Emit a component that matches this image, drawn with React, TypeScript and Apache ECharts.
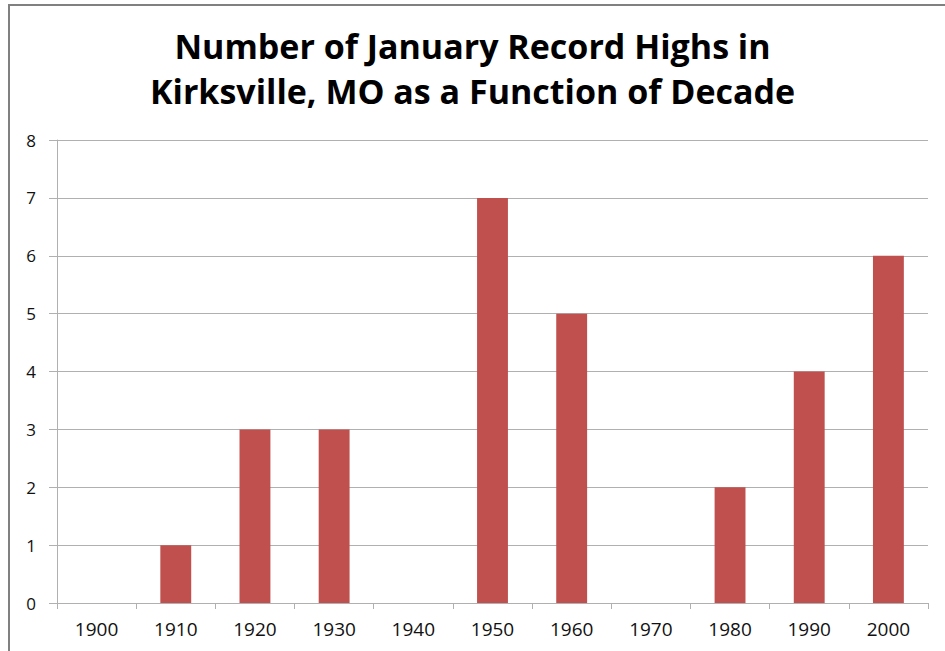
import React, { useEffect, useRef } from "react";
import * as echarts from "echarts";

const decades = ["1900", "1910", "1920", "1930", "1940", "1950", "1960", "1970", "1980", "1990", "2000"];
const recordHighs = [0, 1, 3, 3, 0, 7, 5, 0, 2, 4, 6];
const titleLines = ["Number of January Record Highs in", "Kirksville, MO as a Function of Decade"];

export default function App() {
  const ref = useRef<HTMLDivElement>(null);
  useEffect(() => {
    if (!ref.current) return;
    const chart = echarts.init(ref.current, undefined, { renderer: "svg" });
    chart.setOption({
      animation: false,
      backgroundColor: "#ffffff",
      title: {
        text: titleLines.join("\n"),
        left: "center",
        top: 18,
        textStyle: {
          fontFamily: "Open Sans",
          fontWeight: "bold",
          fontSize: 34,
          lineHeight: 45,
          color: "#000000",
        },
      },
      graphic: [
        {
          type: "rect",
          shape: { x: 9, y: 5, width: 1000, height: 1000 },
          style: { fill: "none", stroke: "#808080", lineWidth: 2 },
          silent: true,
        },
      ],
      grid: { left: 57, right: 17, top: 140, bottom: 48 },
      xAxis: {
        type: "category",
        data: decades,
        axisLine: { lineStyle: { color: "#b0b0b0", width: 1 } },
        axisTick: { show: true, length: 6, lineStyle: { color: "#b0b0b0" } },
        axisLabel: { fontFamily: "Open Sans", fontSize: 19, color: "#111111", margin: 16 },
      },
      yAxis: {
        type: "value",
        min: 0,
        max: 8,
        interval: 1,
        axisLine: { show: true, lineStyle: { color: "#b0b0b0", width: 1 } },
        axisTick: { show: true, length: 8, lineStyle: { color: "#b0b0b0" } },
        axisLabel: { fontFamily: "Open Sans", fontSize: 17, color: "#111111", margin: 21 },
        splitLine: { lineStyle: { color: "#b0b0b0", width: 1 } },
      },
      series: [
        {
          type: "bar",
          data: recordHighs,
          barWidth: "39%",
          itemStyle: { color: "#C0504D" },
        },
      ],
    });
    return () => chart.dispose();
  }, []);
  return (
    <div
      ref={ref}
      style={{ position: "fixed", left: 0, top: 0, width: 945, height: 651 }}
    />
  );
}
